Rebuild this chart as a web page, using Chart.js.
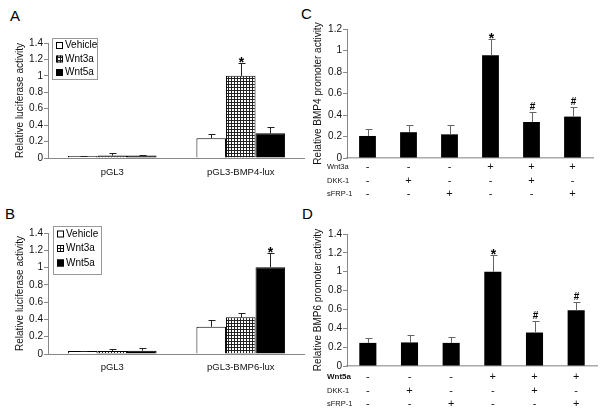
<!DOCTYPE html>
<html>
<head>
<meta charset="utf-8">
<script src="https://cdn.jsdelivr.net/npm/chart.js@4"></script>
<style>
  body { margin: 0; background: #fff; width: 605px; height: 415px; position: relative; overflow: hidden; }
  canvas { position: absolute; }
  .tag { position: absolute; font: 15px "Liberation Sans", Arial, sans-serif; line-height: 1; color: #000; }
</style>
</head>
<body>
<div class="tag" style="left:10px;top:8px">A</div>
<div class="tag" style="left:5px;top:206px">B</div>
<div class="tag" style="left:301px;top:6px">C</div>
<div class="tag" style="left:302px;top:206px">D</div>
<canvas id="chartA" width="305" height="200" style="left:0;top:0"></canvas>
<canvas id="chartB" width="305" height="215" style="left:0;top:200px"></canvas>
<canvas id="chartC" width="305" height="200" style="left:300px;top:0"></canvas>
<canvas id="chartD" width="305" height="215" style="left:300px;top:200px"></canvas>
<script>
// ---- data ----
const treatments = ['Vehicle', 'Wnt3a', 'Wnt5a'];
const groupsA = ['pGL3', 'pGL3-BMP4-lux'];
const groupsB = ['pGL3', 'pGL3-BMP6-lux'];

const vehicleA = [0.025, 0.24];
const vehicleAErr = [0.005, 0.05];
const wnt3aA = [0.03, 1.0];
const wnt3aAErr = [0.03, 0.155];
const wnt5aA = [0.03, 0.30];
const wnt5aAErr = [0.012, 0.08];
const marksA = [['', ''], ['', '*'], ['', '']];

const vehicleB = [0.035, 0.315];
const vehicleBErr = [0.005, 0.08];
const wnt3aB = [0.035, 0.425];
const wnt3aBErr = [0.02, 0.045];
const wnt5aB = [0.038, 1.005];
const wnt5aBErr = [0.03, 0.165];
const marksB = [['', ''], ['', ''], ['', '*']];

const conditions = ['1', '2', '3', '4', '5', '6'];
const valuesC = [0.205, 0.24, 0.22, 0.955, 0.335, 0.385];
const errorsC = [0.062, 0.068, 0.087, 0.152, 0.097, 0.088];
const valuesD = [0.245, 0.25, 0.245, 1.0, 0.355, 0.59];
const errorsD = [0.055, 0.08, 0.065, 0.18, 0.12, 0.09];
const marksCD = ['', '', '', '*', '#', '#'];

const rowLabelsC = ['Wnt3a', 'DKK-1', 'sFRP-1'];
const rowLabelsD = ['Wnt5a', 'DKK-1', 'sFRP-1'];
const wntSigns = ['-', '-', '-', '+', '+', '+'];
const dkkSigns = ['-', '+', '-', '-', '+', '-'];
const sfrpSigns = ['-', '-', '+', '-', '-', '+'];

const ticks14 = [0, 0.2, 0.4, 0.6, 0.8, 1, 1.2, 1.4];
const ticks12 = [0, 0.2, 0.4, 0.6, 0.8, 1, 1.2];

const FONT = '"Liberation Sans", Arial, sans-serif';
Chart.defaults.font.family = FONT;
Chart.defaults.color = '#111';

// hatched fill for Wnt3a bars
function gridPattern() {
    const c = document.createElement('canvas');
    c.width = 3; c.height = 3;
    const g = c.getContext('2d');
    g.fillStyle = '#fff';
    g.fillRect(0, 0, 3, 3);
    g.fillStyle = '#222';
    g.fillRect(0, 0, 3, 1);
    g.fillRect(0, 0, 1, 3);
    return g.createPattern(c, 'repeat');
}
const hatch = gridPattern();

// error bars (upward only) plus significance marks
const errorBars = {
    id: 'errorBars',
    afterDatasetsDraw(chart, args, opts) {
        const ctx = chart.ctx;
        const y = chart.scales.y;
        chart.data.datasets.forEach((ds, di) => {
            const meta = chart.getDatasetMeta(di);
            meta.data.forEach((bar, i) => {
                const top = Math.round(y.getPixelForValue(ds.data[i] + ds.errors[i])) + 0.5;
                const x = Math.round(bar.x) + 0.5;
                ctx.save();
                ctx.strokeStyle = opts.color;
                ctx.lineWidth = 1;
                ctx.beginPath();
                ctx.moveTo(x, bar.y);
                ctx.lineTo(x, top);
                ctx.moveTo(x - opts.cap, top);
                ctx.lineTo(x + opts.cap + 1, top);
                ctx.stroke();
                const m = ds.marks ? ds.marks[i] : '';
                if (m) {
                    ctx.fillStyle = '#000';
                    ctx.textAlign = 'center';
                    ctx.textBaseline = 'alphabetic';
                    if (m === '*') {
                        ctx.font = 'bold 14px ' + FONT;
                        ctx.fillText(m, x, top + 3);
                    } else {
                        ctx.font = 'bold 10px ' + FONT;
                        ctx.fillText(m, x, top - 3);
                    }
                }
                ctx.restore();
            });
        });
    }
};

// boxed legend inside the plot
const boxLegend = {
    id: 'boxLegend',
    afterDraw(chart, args, opts) {
        if (!opts.show) return;
        const ctx = chart.ctx;
        ctx.save();
        ctx.strokeStyle = '#999';
        ctx.lineWidth = 1;
        ctx.strokeRect(opts.x + 0.5, opts.y + 0.5, opts.w, opts.h);
        ctx.font = '10px ' + FONT;
        ctx.textBaseline = 'middle';
        chart.data.datasets.forEach((ds, i) => {
            const ry = opts.y + opts.first + i * opts.gap;
            ctx.fillStyle = ds.backgroundColor;
            ctx.fillRect(opts.x + 4, ry - 3, 7, 7);
            ctx.strokeStyle = '#000';
            ctx.strokeRect(opts.x + 4.5, ry - 2.5, 6, 6);
            ctx.fillStyle = '#000';
            ctx.fillText(ds.label, opts.x + 13, ry + 0.5);
        });
        ctx.restore();
    }
};

// +/- treatment table below C and D
const signTable = {
    id: 'signTable',
    afterDraw(chart, args, opts) {
        if (!opts.rows) return;
        const ctx = chart.ctx;
        const xs = chart.scales.x;
        ctx.save();
        ctx.fillStyle = '#111';
        ctx.textBaseline = 'middle';
        opts.rows.forEach((row, r) => {
            ctx.textAlign = 'left';
            ctx.font = (r === 0 && opts.boldFirst ? 'bold 8px ' : '7.5px ') + FONT;
            ctx.fillText(row.label, opts.labelX, opts.rowY[r]);
            ctx.textAlign = 'center';
            ctx.font = '11px ' + FONT;
            row.signs.forEach((s, i) => {
                ctx.fillText(s, xs.getPixelForValue(i), opts.rowY[r]);
            });
        });
        ctx.restore();
    }
};

function yScale(title, tickList, width, titlePad) {
    return {
        min: 0,
        max: tickList[tickList.length - 1],
        afterBuildTicks: s => { s.ticks = tickList.map(v => ({ value: v })); },
        afterFit: s => { s.width = width; },
        grid: { display: true, drawOnChartArea: false, drawTicks: true, tickLength: 4, color: '#888' },
        border: { display: true, color: '#888' },
        ticks: {
            font: { size: 10 }, padding: 1, color: '#111',
            callback: v => String(Number(v.toFixed(1)))
        },
        title: { display: true, text: title, font: { size: 10 }, padding: { top: titlePad, bottom: 0 }, color: '#111' }
    };
}

function groupedChart(id, groups, sets, marks, top, bottom, xPad, legend) {
    const fills = ['#fff', hatch, '#000'];
    const ctx = document.getElementById(id).getContext('2d');
    const h = ctx.canvas.height;
    new Chart(ctx, {
        type: 'bar',
        data: {
            labels: groups,
            datasets: treatments.map((t, k) => ({
                label: t,
                data: sets[k][0],
                errors: sets[k][1],
                marks: marks[k],
                backgroundColor: fills[k],
                borderColor: '#000',
                borderWidth: 1,
                categoryPercentage: 0.69,
                barPercentage: 1
            }))
        },
        options: {
            responsive: false,
            animation: false,
            layout: { padding: { left: 0, top: top, right: 0, bottom: 0 } },
            plugins: {
                legend: { display: false },
                tooltip: { enabled: false },
                errorBars: { color: '#222', cap: 3 },
                boxLegend: legend
            },
            scales: {
                x: {
                    afterFit: s => { s.height = h - bottom; },
                    grid: { display: false, drawTicks: false },
                    border: { display: true, color: '#888' },
                    ticks: { font: { size: 9.5 }, padding: xPad, color: '#111' }
                },
                y: yScale('Relative luciferase activity', ticks14, 48, 14)
            }
        },
        plugins: [errorBars, boxLegend]
    });
}

function conditionChart(id, values, errors, tickList, title, top, bottom, right, rowLabels, rowY, boldFirst) {
    const ctx = document.getElementById(id).getContext('2d');
    const h = ctx.canvas.height;
    new Chart(ctx, {
        type: 'bar',
        data: {
            labels: conditions,
            datasets: [{
                label: title,
                data: values,
                errors: errors,
                marks: marksCD,
                backgroundColor: '#000',
                borderWidth: 0,
                categoryPercentage: 1,
                barPercentage: 0.41
            }]
        },
        options: {
            responsive: false,
            animation: false,
            layout: { padding: { left: 0, top: top, right: right, bottom: 0 } },
            plugins: {
                legend: { display: false },
                tooltip: { enabled: false },
                errorBars: { color: '#666', cap: 3 },
                signTable: {
                    labelX: 27,
                    rowY: rowY,
                    boldFirst: boldFirst,
                    rows: [
                        { label: rowLabels[0], signs: wntSigns },
                        { label: rowLabels[1], signs: dkkSigns },
                        { label: rowLabels[2], signs: sfrpSigns }
                    ]
                }
            },
            scales: {
                x: {
                    afterFit: s => { s.height = h - bottom; },
                    grid: { display: false, drawTicks: false },
                    border: { display: true, color: '#aaa', width: 1.5 },
                    ticks: { display: false }
                },
                y: yScale(title, tickList, 47, 12)
            }
        },
        plugins: [errorBars, signTable]
    });
}

groupedChart('chartA', groupsA,
    [[vehicleA, vehicleAErr], [wnt3aA, wnt3aAErr], [wnt5aA, wnt5aAErr]], marksA,
    43, 158, 9, { show: true, x: 52, y: 38, w: 45, h: 41, first: 7, gap: 13.5 });

groupedChart('chartB', groupsB,
    [[vehicleB, vehicleBErr], [wnt3aB, wnt3aBErr], [wnt5aB, wnt5aBErr]], marksB,
    33, 154, 8, { show: true, x: 53, y: 26, w: 48, h: 48, first: 7.5, gap: 14.5 });

conditionChart('chartC', valuesC, errorsC, ticks12, 'Relative BMP4 promoter activity',
    29, 158, 12, rowLabelsC, [167, 181, 194], false);

conditionChart('chartD', valuesD, errorsD, ticks14, 'Relative BMP6 promoter activity',
    34, 166, 8, rowLabelsD, [177, 191, 204], true);
</script>
</body>
</html>
